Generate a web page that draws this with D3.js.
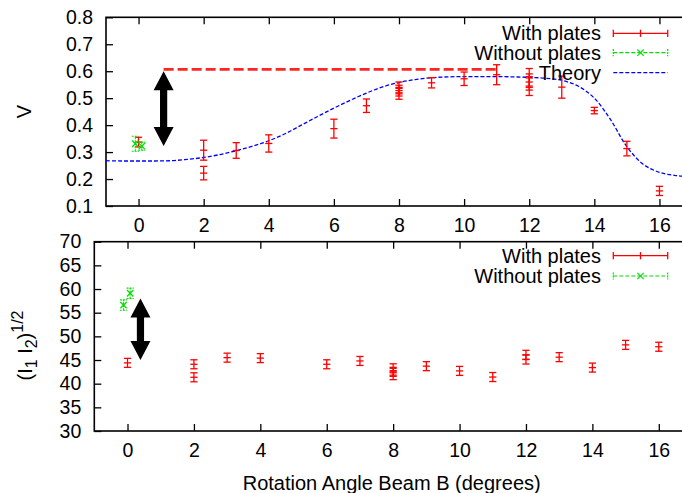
<!DOCTYPE html>
<html>
<head>
<meta charset="utf-8">
<script src="https://cdn.jsdelivr.net/npm/d3@7"></script>
<style>
  html, body { margin: 0; padding: 0; background: #fff; }
  svg { display: block; }
  text { font-family: "Liberation Sans", Arial, sans-serif; fill: #000; }
</style>
</head>
<body>
<svg id="chart" width="682" height="493"></svg>
<script>
// ---- data ----
const xTicks = [0, 2, 4, 6, 8, 10, 12, 14, 16];
const vTicks = [0.1, 0.2, 0.3, 0.4, 0.5, 0.6, 0.7, 0.8];
const iTicks = [30, 35, 40, 45, 50, 55, 60, 65, 70];

// Visibility, with plates
const vWithX   = [0, 2, 2, 3, 4, 6, 7, 8, 8, 8, 9, 10, 11, 12, 12, 12, 13, 14, 15, 16];
const vWith    = [0.337, 0.307, 0.222, 0.306, 0.332, 0.387, 0.472, 0.540, 0.528, 0.516, 0.557, 0.572, 0.587, 0.575, 0.560, 0.545, 0.541, 0.454, 0.313, 0.156];
const vWithErr = [0.018, 0.037, 0.025, 0.029, 0.032, 0.035, 0.025, 0.020, 0.020, 0.020, 0.019, 0.025, 0.037, 0.035, 0.030, 0.035, 0.041, 0.012, 0.027, 0.017];

// Visibility, without plates
const vWithoutX   = [-0.1, 0.1];
const vWithout    = [0.331, 0.322];
const vWithoutErr = [0.028, 0.015];

// Theory curve
const theoryX = [-1, -0.5, 0, 0.5, 1, 1.5, 2, 2.5, 3, 3.5, 4, 4.5, 5, 5.5, 6, 6.5, 7, 7.5, 8, 8.5, 9, 9.5, 10, 10.5, 11, 11.5, 12, 12.5, 13, 13.5, 14, 14.5, 15, 15.5, 16, 16.5, 17];
const theoryV = [0.268, 0.267, 0.267, 0.267, 0.268, 0.273, 0.280, 0.291, 0.305, 0.322, 0.342, 0.368, 0.400, 0.432, 0.463, 0.492, 0.519, 0.542, 0.558, 0.569, 0.576, 0.579, 0.580, 0.580, 0.580, 0.579, 0.577, 0.574, 0.566, 0.545, 0.500, 0.420, 0.320, 0.255, 0.225, 0.213, 0.208];

// Maximum visibility reference level
const vMaxLevel = 0.607;
const vMaxFrom = 0.77, vMaxTo = 10.97;

// Intensity product, with plates
const iWithX   = [0, 2, 2, 3, 4, 6, 7, 8, 8, 8, 9, 10, 11, 12, 12, 13, 14, 15, 16];
const iWith    = [44.4, 44.1, 41.35, 45.5, 45.4, 44.1, 44.8, 43.25, 42.5, 41.8, 43.7, 42.7, 41.4, 46.1, 45.1, 45.6, 43.4, 48.2, 47.8];
const iWithErr = [0.95, 0.95, 0.95, 0.95, 0.95, 0.95, 0.95, 0.95, 0.95, 0.95, 0.95, 0.95, 0.95, 0.95, 0.95, 0.95, 0.95, 0.95, 0.95];

// Intensity product, without plates
const iWithoutX   = [-0.12, 0.08];
const iWithout    = [56.6, 59.1];
const iWithoutErr = [1.1, 1.1];

// Double-headed arrows: [x, yLow, yHigh]
const vArrow = [0.77, 0.323, 0.600];
const iArrow = [0.39, 45.0, 58.0];

// ---- drawing ----
const svg = d3.select("#chart");
const RED = "#ff0000", GREEN = "#00e000", BLUE = "#0000ff";
const TICK_FONT = 19.5, LABEL_FONT = 20;

const pTop = { left: 106, right: 692, top: 17.3, bottom: 206 };
const pBot = { left: 94.3, right: 692, top: 241.7, bottom: 431 };

const xTop = d3.scaleLinear().domain([-1, 17]).range([pTop.left, pTop.right]);
const yTop = d3.scaleLinear().domain([0.1, 0.8]).range([pTop.bottom, pTop.top]);
const xBot = d3.scaleLinear().domain([-1, 17]).range([pBot.left, pBot.right]);
const yBot = d3.scaleLinear().domain([30, 70]).range([pBot.bottom, pBot.top]);

function frame(p, x, y, yt, yFmt) {
  const g = svg.append("g");
  // inward ticks on all sides (mirror)
  g.append("g").attr("transform", `translate(0,${p.bottom})`)
    .call(d3.axisBottom(x).tickValues(xTicks).tickSize(-7).tickPadding(12).tickSizeOuter(0))
    .call(a => a.select(".domain").remove());
  g.append("g").attr("transform", `translate(0,${p.top})`)
    .call(d3.axisTop(x).tickValues(xTicks).tickSize(-7).tickFormat("").tickSizeOuter(0))
    .call(a => a.select(".domain").remove());
  g.append("g").attr("transform", `translate(${p.left},0)`)
    .call(d3.axisLeft(y).tickValues(yt).tickSize(-7).tickPadding(13).tickFormat(yFmt).tickSizeOuter(0))
    .call(a => a.select(".domain").remove());
  g.selectAll(".tick line").attr("stroke", "#000").attr("stroke-width", 1.3);
  g.selectAll(".tick text").style("font-size", TICK_FONT + "px")
    .style("font-family", '"Liberation Sans", Arial, sans-serif').attr("fill", "#000");
  g.append("rect").attr("x", p.left).attr("y", p.top)
    .attr("width", p.right - p.left).attr("height", p.bottom - p.top)
    .attr("fill", "none").attr("stroke", "#000").attr("stroke-width", 1.6);
  return g;
}

frame(pTop, xTop, yTop, vTicks, d3.format(".1f"));
frame(pBot, xBot, yBot, iTicks, d3.format("d"));

// error bars with a point marker
function errBars(g, xs, ys, es, x, y, color, dashed, marker) {
  const cap = 3.6;
  xs.forEach((xv, i) => {
    const px = x(xv), py = y(ys[i]), y1 = y(ys[i] - es[i]), y2 = y(ys[i] + es[i]);
    const s = g.append("g").attr("stroke", color).attr("stroke-width", dashed ? 1.1 : 1.3)
      .attr("fill", "none");
    if (dashed) s.attr("stroke-dasharray", "2,1");
    s.append("line").attr("x1", px).attr("x2", px).attr("y1", y1).attr("y2", y2);
    s.append("line").attr("x1", px - cap).attr("x2", px + cap).attr("y1", y1).attr("y2", y1);
    s.append("line").attr("x1", px - cap).attr("x2", px + cap).attr("y1", y2).attr("y2", y2);
    if (marker === "plus") {
      s.append("line").attr("x1", px - cap).attr("x2", px + cap).attr("y1", py).attr("y2", py);
    } else {
      const m = 3.2;
      const c = g.append("g").attr("stroke", color).attr("stroke-width", 1.3);
      c.append("line").attr("x1", px - m).attr("x2", px + m).attr("y1", py - m).attr("y2", py + m);
      c.append("line").attr("x1", px - m).attr("x2", px + m).attr("y1", py + m).attr("y2", py - m);
    }
  });
}

function doubleArrow(g, x, y, a) {
  const cx = x(a[0]), yLo = y(a[1]), yHi = y(a[2]);
  const hw = 10, sw = 3.6, hl = 19;
  const pts = [
    [cx, yHi], [cx + hw, yHi + hl], [cx + sw, yHi + hl],
    [cx + sw, yLo - hl], [cx + hw, yLo - hl], [cx, yLo],
    [cx - hw, yLo - hl], [cx - sw, yLo - hl], [cx - sw, yHi + hl],
    [cx - hw, yHi + hl]
  ];
  g.append("polygon").attr("points", pts.map(p => p.join(",")).join(" ")).attr("fill", "#000");
}

svg.append("clipPath").attr("id", "clipTop").append("rect")
  .attr("x", pTop.left).attr("y", pTop.top)
  .attr("width", pTop.right - pTop.left).attr("height", pTop.bottom - pTop.top);

// ---- top panel ----
const gT = svg.append("g");
const theoryLine = d3.line().x((d, i) => xTop(theoryX[i])).y(d => yTop(d)).curve(d3.curveCatmullRom);
gT.append("path").attr("clip-path", "url(#clipTop)").attr("d", theoryLine(theoryV))
  .attr("fill", "none").attr("stroke", BLUE).attr("stroke-width", 1.3).attr("stroke-dasharray", "4,2");

gT.append("line").attr("x1", xTop(vMaxFrom)).attr("x2", xTop(vMaxTo))
  .attr("y1", yTop(vMaxLevel)).attr("y2", yTop(vMaxLevel))
  .attr("stroke", RED).attr("stroke-width", 2.6).attr("stroke-dasharray", "10,4").attr("opacity", 0.85);

errBars(gT, vWithX, vWith, vWithErr, xTop, yTop, RED, false, "plus");
errBars(gT, vWithoutX, vWithout, vWithoutErr, xTop, yTop, GREEN, true, "x");
doubleArrow(gT, xTop, yTop, vArrow);

// ---- bottom panel ----
const gB = svg.append("g");
errBars(gB, iWithX, iWith, iWithErr, xBot, yBot, RED, false, "plus");
errBars(gB, iWithoutX, iWithout, iWithoutErr, xBot, yBot, GREEN, true, "x");
doubleArrow(gB, xBot, yBot, iArrow);

// ---- legends ----
function legendRow(y, label, kind) {
  const tx = 601, x1 = 613.3, x2 = 667.7, xm = (x1 + x2) / 2;
  svg.append("text").attr("x", tx).attr("y", y).attr("dy", "0.35em")
    .attr("text-anchor", "end").style("font-size", LABEL_FONT + "px").text(label);
  const g = svg.append("g").attr("fill", "none");
  if (kind === "with") {
    g.attr("stroke", RED).attr("stroke-width", 1.3);
    g.append("line").attr("x1", x1).attr("x2", x2).attr("y1", y).attr("y2", y);
    [x1, x2].forEach(x => g.append("line").attr("x1", x).attr("x2", x).attr("y1", y - 3.6).attr("y2", y + 3.6));
    g.append("line").attr("x1", xm).attr("x2", xm).attr("y1", y - 3.6).attr("y2", y + 3.6);
  } else if (kind === "without") {
    g.attr("stroke", GREEN).attr("stroke-width", 1.2);
    g.append("line").attr("x1", x1).attr("x2", x2).attr("y1", y).attr("y2", y).attr("stroke-dasharray", "4,2");
    [x1, x2].forEach(x => g.append("line").attr("x1", x).attr("x2", x).attr("y1", y - 3.6).attr("y2", y + 3.6).attr("stroke-dasharray", "2,1"));
    const m = 3.2;
    g.append("line").attr("x1", xm - m).attr("x2", xm + m).attr("y1", y - m).attr("y2", y + m);
    g.append("line").attr("x1", xm - m).attr("x2", xm + m).attr("y1", y + m).attr("y2", y - m);
  } else {
    g.attr("stroke", BLUE).attr("stroke-width", 1.3);
    g.append("line").attr("x1", x1).attr("x2", x2).attr("y1", y).attr("y2", y).attr("stroke-dasharray", "4,2");
  }
}
legendRow(33.3, "With plates", "with");
legendRow(52.7, "Without plates", "without");
legendRow(72.7, "Theory", "theory");
legendRow(255.7, "With plates", "with");
legendRow(276, "Without plates", "without");

// ---- axis titles ----
svg.append("text").attr("transform", "translate(31,111.7) rotate(-90)")
  .attr("text-anchor", "middle").style("font-size", LABEL_FONT + "px").text("V");

const yl = svg.append("text").attr("transform", "translate(32,345.5) rotate(-90)")
  .attr("text-anchor", "middle").style("font-size", LABEL_FONT + "px");
yl.append("tspan").text("(I");
yl.append("tspan").attr("dy", 5).style("font-size", "16px").text("1");
yl.append("tspan").attr("dy", -5).text(" I");
yl.append("tspan").attr("dy", 5).style("font-size", "16px").text("2");
yl.append("tspan").attr("dy", -5).text(")");
yl.append("tspan").attr("dy", -9).style("font-size", "16px").text("1/2");

svg.append("text").attr("x", 391.7).attr("y", 490).attr("text-anchor", "middle")
  .style("font-size", LABEL_FONT + "px").text("Rotation Angle Beam B (degrees)");
</script>
</body>
</html>
